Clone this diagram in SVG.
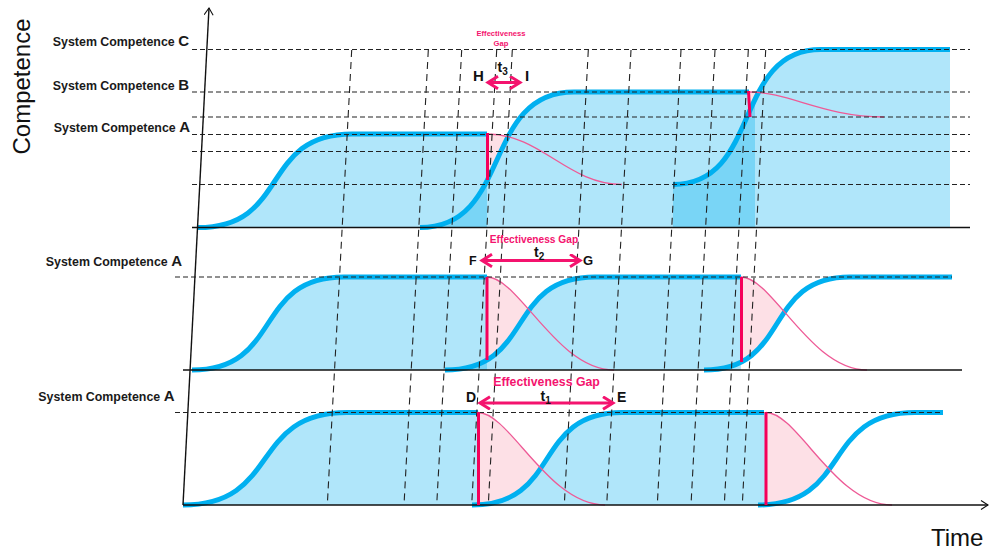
<svg xmlns="http://www.w3.org/2000/svg" width="990" height="553" viewBox="0 0 990 553">
<defs>
<style>
.fill{fill:#00aeef;fill-opacity:0.31}
.gap{fill:#fde0e6}
.curve{fill:none;stroke:#00b0f0;stroke-width:5}
.decay{fill:none;stroke:#ee5a96;stroke-width:1.3}
.cut{stroke:#f5005a;stroke-width:3}
.hd{fill:none;stroke:#222;stroke-width:1.1;stroke-dasharray:5 3}
.vd{fill:none;stroke:#222;stroke-width:1.1;stroke-dasharray:7 5}
.base{stroke:#111;stroke-width:1.4}
.lbl{font-family:"Liberation Sans",Arial,sans-serif;font-weight:bold;font-size:12.4px;fill:#1a1a1a}
.big{font-size:15px}
.pt{font-family:"Liberation Sans",Arial,sans-serif;font-weight:bold;fill:#111}
.eg{font-family:"Liberation Sans",Arial,sans-serif;font-weight:bold;fill:#f4136e}
.span{fill:none;stroke:#f4136e;stroke-width:3}
.title{font-family:"Liberation Sans",Arial,sans-serif;font-size:24px;fill:#111}
</style>
<marker id="chev" markerUnits="userSpaceOnUse" markerWidth="16" markerHeight="16" viewBox="0 0 16 16" refX="11" refY="7" orient="auto-start-reverse">
  <path d="M1,0.8 L11,7 L1,13.2" fill="none" stroke="#f4136e" stroke-width="3"/>
</marker>
<marker id="axis" markerUnits="userSpaceOnUse" markerWidth="12" markerHeight="12" viewBox="0 0 12 12" refX="8" refY="5" orient="auto">
  <path d="M1,0.5 L8,5 L1,9.5" fill="none" stroke="#111" stroke-width="1.1"/>
</marker>
<!-- regions above the next rising curve, used to trim the gap areas -->
<clipPath id="aboveT2"><path d="M420,227.5 C512.4,227.5 481.6,92 574,92 L574,0 L400,0 L400,227.5 Z"/></clipPath>
<clipPath id="aboveT3"><path d="M673,184.5 C761.8,184.5 732.2,49.5 821,49.5 L821,0 L650,0 L650,184.5 Z"/></clipPath>
<clipPath id="aboveM2"><path d="M445,370 C535,370 505,277 595,277 L595,240 L430,240 L430,370 Z"/></clipPath>
<clipPath id="aboveM3"><path d="M704,370 C791.6,370 762.4,277 850,277 L850,240 L690,240 L690,370 Z"/></clipPath>
<clipPath id="aboveB2"><path d="M472,505 C562,505 532,412.5 622,412.5 L622,380 L460,380 L460,505 Z"/></clipPath>
<clipPath id="aboveB3"><path d="M758,505 C852.2,505 820.8,412.5 915,412.5 L915,380 L740,380 L740,505 Z"/></clipPath>
</defs>

<!-- competence areas -->
<g id="areas">
  <path class="fill" d="M198,227.5 C290.4,227.5 259.6,134 352,134 L487,134 L487,227.5 Z"/>
  <path class="fill" d="M420,227.5 C512.4,227.5 481.6,92 574,92 L755,92 L755,227.5 Z"/>
  <path class="fill" d="M673,184.5 C761.8,184.5 732.2,49.5 821,49.5 L950,49.5 L950,227.5 L673,227.5 Z"/>
  <path class="fill" d="M192,370 C283.2,370 252.8,277 344,277 L487,277 L487,370 Z"/>
  <path class="fill" d="M445,370 C535,370 505,277 595,277 L741,277 L741,370 Z"/>
  <path class="fill" d="M183,505 C281.4,505 248.6,412.5 347,412.5 L478,412.5 L478,505 Z"/>
  <path class="fill" d="M472,505 C562,505 532,412.5 622,412.5 L765,412.5 L765,505 Z"/>
</g>

<!-- effectiveness gap areas -->
<g id="gaps">
  <path class="gap" clip-path="url(#aboveT2)" d="M487,134 C541,134 568,184.5 622,184.5 L622,227.5 L487,227.5 Z"/>
  <path class="gap" clip-path="url(#aboveT3)" d="M749,92 C789.5,92 823.3,117 884,117 L884,227.5 L749,227.5 Z"/>
  <path class="gap" clip-path="url(#aboveM2)" d="M487,277 C518.8,277 556.9,370 614,370 L487,370 Z"/>
  <path class="gap" clip-path="url(#aboveM3)" d="M741,277 C772.5,277 810.3,370 867,370 L741,370 Z"/>
  <path class="gap" clip-path="url(#aboveB2)" d="M478,412.5 C509.8,412.5 547.9,505 605,505 L478,505 Z"/>
  <path class="gap" clip-path="url(#aboveB3)" d="M766,412.5 C797.5,412.5 835.3,505 892,505 L766,505 Z"/>
</g>

<!-- rising competence curves -->
<g id="curves">
  <path class="curve" d="M198,227.5 C290.4,227.5 259.6,134 352,134 L487,134"/>
  <path class="curve" d="M420,227.5 C512.4,227.5 481.6,92 574,92 L749,92"/>
  <path class="curve" d="M673,184.5 C761.8,184.5 732.2,49.5 821,49.5 L950,49.5"/>
  <path class="curve" d="M192,370 C283.2,370 252.8,277 344,277 L487,277"/>
  <path class="curve" d="M445,370 C535,370 505,277 595,277 L741,277"/>
  <path class="curve" d="M704,370 C791.6,370 762.4,277 850,277 L952,277"/>
  <path class="curve" d="M183,505 C281.4,505 248.6,412.5 347,412.5 L478,412.5"/>
  <path class="curve" d="M472,505 C562,505 532,412.5 622,412.5 L764,412.5"/>
  <path class="curve" d="M758,505 C852.2,505 820.8,412.5 915,412.5 L943,412.5"/>
</g>

<!-- decaying competence curves -->
<g id="decay">
  <path class="decay" d="M487,134 C541,134 568,184.5 622,184.5"/>
  <path class="decay" d="M749,92 C789.5,92 823.3,117 884,117"/>
  <path class="decay" d="M487,277 C518.8,277 556.9,370 614,370"/>
  <path class="decay" d="M741,277 C772.5,277 810.3,370 867,370"/>
  <path class="decay" d="M478,412.5 C509.8,412.5 547.9,505 605,505"/>
  <path class="decay" d="M766,412.5 C797.5,412.5 835.3,505 892,505"/>
</g>

<!-- guide lines -->
<g id="guides">
  <path class="hd" d="M192,49.5 H970 M192,92 H970 M192,117 H970 M192,134.5 H970 M192,151.5 H970 M192,184.5 H970 M175,277 H952 M175,412.5 H943"/>
  <path class="vd" d="M351.7,50 L327.3,505 M428.3,50 L404,505 M461.7,50 L436.7,505 M496.7,50 L471.7,505 M512.3,50 L488.3,505 M588.3,50 L564.3,505 M631,50 L606.7,505 M681,50 L657.3,505 M715,50 L691,505 M748.3,50 L724.3,505 M765.7,50 L742.3,505"/>
</g>

<!-- axes and panel baselines -->
<g id="axes">
  <line class="base" x1="192" y1="227.5" x2="970" y2="227.5"/>
  <line class="base" x1="183" y1="370" x2="962" y2="370"/>
  <line class="base" x1="183" y1="505" x2="988" y2="505" marker-end="url(#axis)"/>
  <line class="base" x1="183" y1="505" x2="209" y2="8" stroke-width="1.1" marker-end="url(#axis)"/>
</g>

<!-- competence drop markers -->
<g id="drops">
  <line class="cut" x1="487.5" y1="133" x2="487.5" y2="180"/>
  <line class="cut" x1="748.5" y1="91" x2="750" y2="117"/>
  <line class="cut" x1="487" y1="277" x2="487" y2="360"/>
  <line class="cut" x1="741.5" y1="277" x2="741.5" y2="362"/>
  <line class="cut" x1="478.5" y1="412" x2="478.5" y2="505"/>
  <line class="cut" x1="766" y1="412" x2="766" y2="505"/>
</g>

<!-- gap spans -->
<g id="spans">
  <line class="span" x1="488" y1="82.5" x2="520" y2="82.5" marker-start="url(#chev)" marker-end="url(#chev)"/>
  <line class="span" x1="482" y1="260.5" x2="580" y2="260.5" marker-start="url(#chev)" marker-end="url(#chev)"/>
  <line class="span" x1="480" y1="403" x2="613" y2="403" marker-start="url(#chev)" marker-end="url(#chev)"/>
</g>

<!-- labels -->
<g id="labels">
  <text class="title" transform="translate(29.5,86.5) rotate(-90)" text-anchor="middle">Competence</text>
  <text class="title" x="931" y="546" font-size="23.5">Time</text>

  <text class="lbl" x="189" y="46" text-anchor="end">System Competence <tspan class="big">C</tspan></text>
  <text class="lbl" x="189" y="89.5" text-anchor="end">System Competence <tspan class="big">B</tspan></text>
  <text class="lbl" x="190" y="132" text-anchor="end">System Competence <tspan class="big">A</tspan></text>
  <text class="lbl" x="182" y="266" text-anchor="end">System Competence <tspan class="big">A</tspan></text>
  <text class="lbl" x="174.5" y="400.5" text-anchor="end">System Competence <tspan class="big">A</tspan></text>

  <text class="eg" x="501" y="36" font-size="7.6" text-anchor="middle">Effectiveness</text>
  <text class="eg" x="501" y="46" font-size="7.6" text-anchor="middle">Gap</text>
  <text class="eg" x="534" y="243" font-size="10.2" text-anchor="middle">Effectiveness Gap</text>
  <text class="eg" x="546.5" y="386" font-size="12.3" text-anchor="middle">Effectiveness Gap</text>

  <text class="pt" x="473" y="80.5" font-size="15">H</text>
  <text class="pt" x="525" y="80.5" font-size="15">I</text>
  <text class="pt" x="497.5" y="72" font-size="14">t<tspan font-size="10" dy="3">3</tspan></text>

  <text class="pt" x="469" y="265" font-size="12.5">F</text>
  <text class="pt" x="583" y="265" font-size="13">G</text>
  <text class="pt" x="534" y="257" font-size="14">t<tspan font-size="10" dy="3">2</tspan></text>

  <text class="pt" x="466" y="401.5" font-size="14">D</text>
  <text class="pt" x="617" y="401.5" font-size="14">E</text>
  <text class="pt" x="540.5" y="400.5" font-size="14">t<tspan font-size="10" dy="3">1</tspan></text>
</g>
</svg>
